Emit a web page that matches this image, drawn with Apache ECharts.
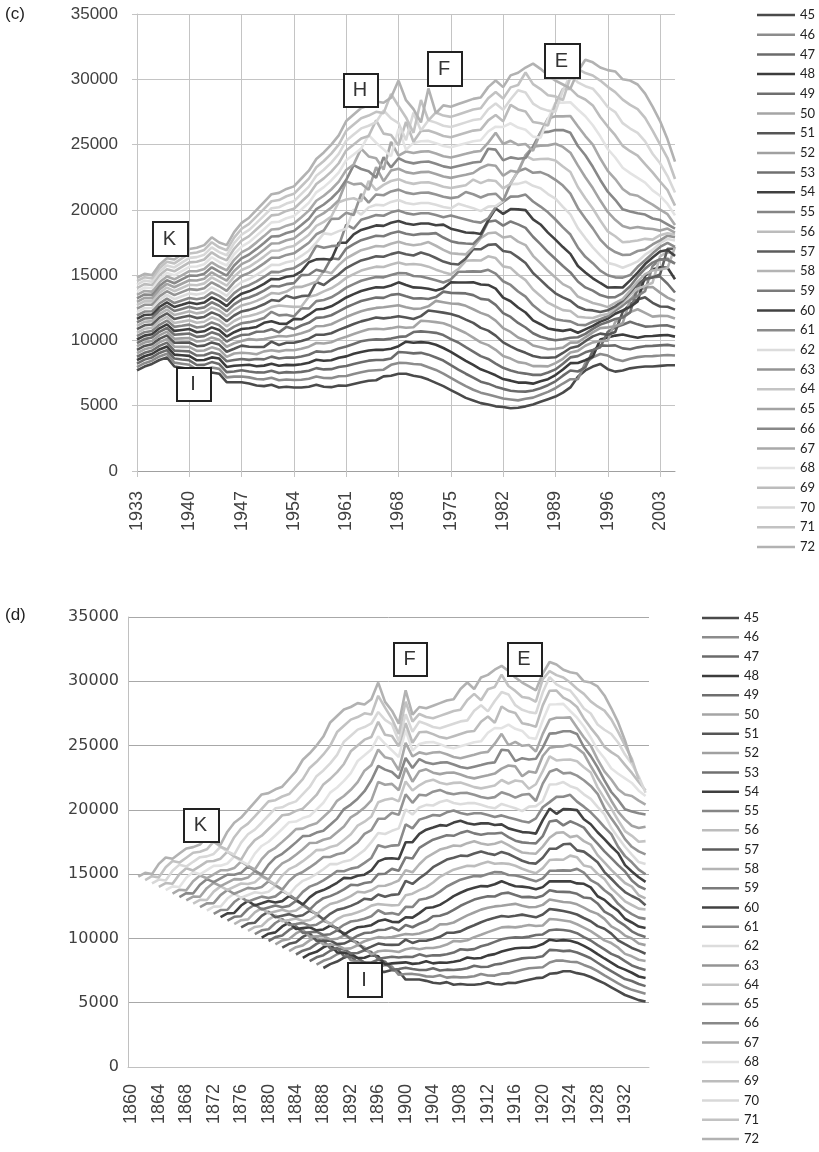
<!DOCTYPE html>
<html>
<head>
<meta charset="utf-8">
<script src="https://cdn.jsdelivr.net/npm/echarts@6/dist/echarts.min.js"></script>
<style>
html, body { margin: 0; padding: 0; background: #fff; }
#chart { width: 819px; height: 1152px; }
</style>
</head>
<body>
<div id="chart"></div>
<script>
// series = age, legend order
var ages = [45, 46, 47, 48, 49, 50, 51, 52, 53, 54, 55, 56, 57, 58, 59, 60, 61, 62, 63, 64, 65, 66, 67, 68, 69, 70, 71, 72];
var lineColors = ['#4a4a4a', '#8c8c8c', '#6b6b6b', '#3c3c3c', '#6e6e6e', '#a5a5a5', '#555555', '#a0a0a0', '#707070', '#3f3f3f',
    '#858585', '#bcbcbc', '#5c5c5c', '#b4b4b4', '#7b7b7b', '#424242', '#8a8a8a', '#dcdcdc', '#949494', '#c4c4c4',
    '#a3a3a3', '#888888', '#a9a9a9', '#e3e3e3', '#bcbcbc', '#d8d8d8', '#c2c2c2', '#b2b2b2'];

// panel (c): one array per calendar year, values for ages 45..72
var firstYear = 1933, lastYear = 2005;
var v1933 = [7700, 7960, 8230, 8490, 8750, 9020, 9280, 9540, 9800, 10070, 10330, 10590, 10860, 11120, 11380, 11650, 11910, 12170, 12430, 12700, 12960, 13220, 13490, 13750, 14010, 14280, 14540, 14800];
var v1934 = [8000, 8260, 8530, 8790, 9050, 9320, 9580, 9840, 10100, 10370, 10630, 10890, 11160, 11420, 11680, 11950, 12210, 12470, 12730, 13000, 13260, 13520, 13790, 14050, 14310, 14580, 14840, 15100];
var v1935 = [8200, 8450, 8700, 8960, 9210, 9460, 9710, 9960, 10220, 10470, 10720, 10970, 11220, 11480, 11730, 11980, 12230, 12480, 12740, 12990, 13240, 13490, 13740, 14000, 14250, 14500, 14750, 15000];
var v1936 = [8500, 8770, 9040, 9310, 9580, 9850, 10120, 10390, 10660, 10930, 11200, 11470, 11750, 12020, 12290, 12560, 12830, 13100, 13370, 13640, 13910, 14180, 14450, 14720, 14990, 15260, 15530, 15800];
var v1937 = [8700, 8980, 9260, 9540, 9830, 10110, 10390, 10670, 10950, 11230, 11520, 11800, 12080, 12360, 12640, 12920, 13200, 13490, 13770, 14050, 14330, 14610, 14890, 15170, 15460, 15740, 16020, 16300];
var v1938 = [8000, 8300, 8610, 8910, 9220, 9520, 9820, 10130, 10430, 10730, 11040, 11340, 11640, 11950, 12250, 12560, 12860, 13160, 13470, 13770, 14070, 14380, 14680, 14990, 15290, 15590, 15900, 16200];
var v1939 = [7900, 8220, 8540, 8870, 9190, 9510, 9830, 10160, 10480, 10800, 11120, 11440, 11770, 12090, 12410, 12730, 13060, 13380, 13700, 14020, 14340, 14670, 14990, 15310, 15630, 15960, 16280, 16600];
var v1940 = [7800, 8140, 8480, 8820, 9160, 9500, 9840, 10190, 10530, 10870, 11210, 11550, 11890, 12230, 12570, 12910, 13250, 13590, 13930, 14270, 14610, 14960, 15300, 15640, 15980, 16320, 16660, 17000];
var v1941 = [7400, 7760, 8120, 8480, 8840, 9200, 9560, 9920, 10270, 10630, 10990, 11350, 11710, 12070, 12430, 12790, 13150, 13510, 13870, 14230, 14590, 14950, 15300, 15660, 16020, 16380, 16740, 17100];
var v1942 = [7400, 7780, 8130, 8500, 8870, 9230, 9600, 9970, 10330, 10700, 11070, 11430, 11800, 12170, 12530, 12900, 13270, 13630, 14000, 14370, 14730, 15100, 15470, 15830, 16200, 16570, 16930, 17300];
var v1943 = [7550, 7930, 8340, 8700, 9080, 9470, 9850, 10230, 10620, 11000, 11380, 11770, 12150, 12530, 12920, 13300, 13680, 14070, 14450, 14830, 15220, 15600, 15980, 16370, 16750, 17130, 17520, 17900];
var v1944 = [7450, 7820, 8190, 8610, 8940, 9310, 9680, 10060, 10430, 10800, 11170, 11540, 11920, 12290, 12660, 13030, 13410, 13780, 14150, 14520, 14890, 15270, 15640, 16010, 16380, 16760, 17130, 17500];
var v1945 = [6800, 7170, 7570, 7970, 8410, 8740, 9130, 9520, 9910, 10300, 10690, 11080, 11470, 11860, 12240, 12630, 13020, 13410, 13800, 14190, 14580, 14970, 15360, 15740, 16130, 16520, 16910, 17300];
var v1946 = [6800, 7230, 7620, 8060, 8500, 9000, 9360, 9780, 10210, 10630, 11060, 11490, 11910, 12340, 12760, 13190, 13620, 14040, 14470, 14890, 15320, 15740, 16170, 16600, 17020, 17450, 17870, 18300];
var v1947 = [6800, 7240, 7720, 8100, 8580, 9060, 9600, 9960, 10420, 10870, 11320, 11770, 12220, 12680, 13130, 13580, 14030, 14480, 14930, 15390, 15840, 16290, 16740, 17190, 17650, 18100, 18550, 19000];
var v1948 = [6700, 7170, 7620, 8140, 8510, 9020, 9520, 10100, 10460, 10930, 11400, 11870, 12340, 12820, 13290, 13760, 14230, 14700, 15170, 15640, 16110, 16580, 17050, 17520, 17990, 18460, 18930, 19400];
var v1949 = [6550, 7050, 7550, 8020, 8580, 8940, 9500, 10040, 10660, 11030, 11530, 12030, 12530, 13030, 13520, 14020, 14520, 15020, 15520, 16010, 16510, 17010, 17510, 18010, 18510, 19000, 19500, 20000];
var v1950 = [6500, 7020, 7540, 8070, 8550, 9160, 9510, 10100, 10680, 11350, 11720, 12240, 12770, 13290, 13810, 14330, 14860, 15380, 15900, 16420, 16940, 17470, 17990, 18510, 19030, 19560, 20080, 20600];
var v1951 = [6600, 7140, 7680, 8220, 8760, 9250, 9910, 10220, 10860, 11470, 12190, 12550, 13090, 13630, 14170, 14710, 15250, 15790, 16330, 16870, 17420, 17960, 18500, 19040, 19580, 20120, 20660, 21200];
var v1952 = [6400, 6950, 7500, 8060, 8610, 9160, 9650, 10340, 10620, 11290, 11920, 12670, 13020, 13570, 14130, 14680, 15230, 15780, 16330, 16890, 17440, 17990, 18540, 19090, 19650, 20200, 20750, 21300];
var v1953 = [6450, 7010, 7570, 8130, 8690, 9260, 9820, 10300, 11040, 11270, 11970, 12620, 13420, 13740, 14310, 14870, 15430, 15990, 16550, 17110, 17670, 18230, 18790, 19360, 19920, 20480, 21040, 21600];
var v1954 = [6400, 6970, 7540, 8110, 8680, 9250, 9820, 10390, 10870, 11650, 11840, 12570, 13240, 14080, 14390, 14960, 15530, 16100, 16670, 17240, 17810, 18380, 18950, 19520, 20090, 20660, 21230, 21800];
var v1955 = [6400, 6990, 7590, 8180, 8770, 9360, 9960, 10550, 11140, 11620, 12460, 12600, 13390, 14100, 15000, 15290, 15880, 16470, 17070, 17660, 18250, 18840, 19440, 20030, 20620, 21220, 21810, 22400];
var v1956 = [6450, 7060, 7680, 8290, 8900, 9520, 10130, 10740, 11350, 11970, 12440, 13350, 13440, 14280, 15030, 15990, 16260, 16870, 17480, 18100, 18710, 19320, 19940, 20550, 21160, 21780, 22390, 23000];
var v1957 = [6600, 7240, 7880, 8520, 9160, 9800, 10440, 11090, 11730, 12370, 13010, 13480, 14480, 14500, 15410, 16210, 17250, 17490, 18130, 18770, 19420, 20060, 20700, 21340, 21980, 22620, 23260, 23900];
var v1958 = [6450, 7120, 7780, 8440, 9110, 9770, 10440, 11100, 11770, 12430, 13100, 13760, 14240, 15310, 15270, 16240, 17090, 18200, 18420, 19080, 19750, 20410, 21080, 21740, 22410, 23070, 23740, 24400];
var v1959 = [6420, 7110, 7800, 8480, 9170, 9860, 10550, 11240, 11930, 12610, 13300, 13990, 14680, 15140, 16300, 16180, 17220, 18120, 19310, 19490, 20180, 20870, 21560, 22250, 22930, 23620, 24310, 25000];
var v1960 = [6550, 7260, 7970, 8680, 9390, 10100, 10810, 11520, 12220, 12930, 13640, 14350, 15060, 15770, 16220, 17480, 17260, 18370, 19320, 20590, 20740, 21450, 22160, 22860, 23570, 24280, 24990, 25700];
var v1961 = [6530, 7280, 8040, 8780, 9530, 10280, 11030, 11790, 12540, 13290, 14040, 14790, 15540, 16290, 17040, 17490, 18870, 18560, 19780, 20790, 22180, 22300, 23050, 23800, 24550, 25300, 26050, 26800];
var v1962 = [6670, 7430, 8200, 8980, 9730, 10490, 11260, 12020, 12780, 13550, 14310, 15080, 15840, 16600, 17370, 18130, 18560, 20030, 19610, 20890, 21950, 23420, 23480, 24240, 25010, 25770, 26540, 27300];
var v1963 = [6790, 7560, 8330, 9120, 9930, 10680, 11460, 12240, 13020, 13790, 14570, 15350, 16130, 16910, 17680, 18460, 19240, 19640, 21210, 20660, 22020, 23130, 24690, 24690, 25460, 26240, 27020, 27800];
var v1964 = [6910, 7680, 8450, 9230, 10030, 10860, 11600, 12380, 13160, 13940, 14720, 15500, 16280, 17060, 17850, 18630, 19410, 20190, 20550, 22210, 21530, 22950, 24090, 25720, 25660, 26440, 27220, 28000];
var v1965 = [6950, 7720, 8500, 9280, 10080, 10900, 11750, 12490, 13280, 14070, 14860, 15650, 16440, 17230, 18020, 18810, 19600, 20390, 21180, 21510, 23270, 22460, 23950, 25140, 26850, 26720, 27510, 28300];
var v1966 = [7250, 7760, 8510, 9280, 10060, 10860, 11690, 12540, 13260, 14050, 14830, 15620, 16410, 17190, 17980, 18770, 19550, 20340, 21120, 21910, 22190, 24030, 23080, 24630, 25840, 27610, 27410, 28200];
var v1967 = [7300, 8130, 8620, 9360, 10140, 10940, 11760, 12620, 13490, 14210, 15010, 15810, 16610, 17410, 18210, 19010, 19810, 20610, 21410, 22210, 23010, 23250, 25210, 24110, 25740, 27000, 28870, 28600];
var v1968 = [7450, 8280, 9110, 9560, 10270, 11050, 11850, 12690, 13560, 14450, 15160, 15960, 16760, 17560, 18350, 19150, 19950, 20750, 21550, 22350, 23150, 23950, 24150, 26210, 24950, 26650, 27950, 29900];
var v1969 = [7450, 8270, 9080, 9900, 10310, 10970, 11750, 12540, 13380, 14240, 15140, 15810, 16600, 17390, 18170, 18960, 19750, 20530, 21320, 22110, 22890, 23680, 24470, 24610, 26740, 25340, 27080, 28400];
var v1970 = [7300, 8190, 9010, 9820, 10640, 11010, 11640, 12420, 13210, 14060, 14930, 15850, 16500, 17290, 18070, 18860, 19640, 20430, 21210, 21990, 22780, 23560, 24350, 25130, 25220, 27440, 25900, 27710];
var v1971 = [7200, 8160, 9050, 9870, 10690, 11510, 11860, 12450, 13230, 14030, 14900, 15800, 16730, 17370, 18160, 18950, 19740, 20520, 21310, 22100, 22890, 23670, 24460, 25250, 26040, 26080, 28410, 26700];
var v1972 = [7000, 7940, 8910, 9820, 10650, 11470, 12290, 12610, 13170, 13960, 14770, 15650, 16570, 17530, 18160, 18950, 19740, 20530, 21320, 22120, 22910, 23700, 24490, 25280, 26080, 26870, 26860, 29300];
var v1973 = [6750, 7740, 8690, 9670, 10580, 11400, 12220, 13030, 13320, 13820, 14610, 15420, 16310, 17250, 18220, 18820, 19600, 20390, 21180, 21960, 22750, 23530, 24320, 25110, 25890, 26680, 27460, 27400];
var v1974 = [6500, 7460, 8460, 9420, 10410, 11320, 12130, 12930, 13740, 13990, 14440, 15230, 16040, 16940, 17880, 18870, 19440, 20220, 21000, 21770, 22550, 23330, 24110, 24890, 25660, 26440, 27220, 28000];
var v1975 = [6200, 7130, 8110, 9130, 10100, 11100, 12020, 12830, 13640, 14450, 14670, 15070, 15870, 16680, 17600, 18560, 19570, 20120, 20900, 21670, 22450, 23230, 24010, 24790, 25560, 26340, 27120, 27900];
var v1976 = [5900, 6810, 7770, 8780, 9840, 10840, 11860, 12800, 13620, 14440, 15260, 15470, 15820, 16630, 17470, 18420, 19410, 20460, 20990, 21780, 22570, 23360, 24150, 24940, 25730, 26520, 27310, 28100];
var v1977 = [5600, 6500, 7450, 8440, 9480, 10570, 11590, 12650, 13600, 14440, 15270, 16100, 16280, 16590, 17420, 18270, 19260, 20290, 21370, 21890, 22690, 23490, 24290, 25100, 25900, 26700, 27500, 28300];
var v1978 = [5400, 6220, 7150, 8120, 9150, 10220, 11340, 12390, 13470, 14450, 15290, 16140, 16980, 17140, 17390, 18240, 19110, 20130, 21200, 22320, 22820, 23630, 24440, 25260, 26070, 26880, 27690, 28500];
var v1979 = [5200, 6000, 6840, 7790, 8800, 9850, 10960, 12110, 13180, 14280, 15270, 16120, 16980, 17830, 17960, 18150, 19020, 19900, 20950, 22050, 23210, 23690, 24510, 25330, 26140, 26960, 27780, 28600];
var v1980 = [5100, 5850, 6690, 7570, 8580, 9640, 10750, 11910, 13120, 14250, 15410, 16440, 17320, 18210, 19090, 19200, 19340, 20250, 21170, 22280, 23450, 24680, 25150, 26000, 26850, 27700, 28550, 29400];
var v1981 = [4950, 5700, 6460, 7330, 8230, 9280, 10370, 11520, 12720, 13970, 15120, 16310, 17370, 18260, 19180, 20100, 20200, 20290, 21240, 22210, 23380, 24610, 25910, 26370, 27260, 28140, 29020, 29900];
var v1982 = [4900, 5550, 6290, 7040, 7900, 8800, 9850, 10940, 12090, 13280, 14530, 15670, 16850, 17880, 18790, 19690, 20600, 20680, 20690, 21640, 22610, 23790, 25040, 26350, 26780, 27660, 28530, 29400];
var v1983 = [4800, 5480, 6150, 6920, 7700, 8610, 9550, 10650, 11800, 13000, 14250, 15560, 16750, 17980, 19110, 20060, 21010, 21970, 22040, 21990, 22990, 24020, 25290, 26630, 28040, 28470, 29380, 30300];
var v1984 = [4850, 5410, 6090, 6770, 7540, 8340, 9260, 10220, 11340, 12520, 13750, 15030, 16360, 17570, 18890, 20040, 21020, 21990, 22960, 23010, 22890, 23920, 24980, 26300, 27690, 29160, 29560, 30500];
var v1985 = [4950, 5540, 6080, 6770, 7460, 8250, 9050, 10000, 10990, 12140, 13350, 14620, 15930, 17300, 18620, 19980, 21170, 22160, 23160, 24160, 24190, 23970, 25040, 26140, 27530, 28980, 30520, 30900];
var v1986 = [5100, 5620, 6170, 6690, 7360, 8030, 8810, 9610, 10550, 11530, 12690, 13900, 15160, 16480, 17940, 19270, 20640, 21840, 22840, 23840, 24830, 24840, 24530, 25610, 26730, 28140, 29630, 31200];
var v1987 = [5300, 5840, 6340, 6870, 7360, 8030, 8690, 9480, 10280, 11240, 12230, 13410, 14640, 15920, 17370, 18880, 20250, 21660, 22890, 23900, 24920, 25930, 25910, 25520, 26630, 27780, 29250, 30800];
var v1988 = [5500, 6060, 6570, 7030, 7540, 8010, 8670, 9330, 10120, 10920, 11890, 12890, 14090, 15330, 16770, 18260, 19810, 21210, 22660, 23910, 24940, 25970, 27000, 26950, 26460, 27600, 28780, 30300];
var v1989 = [5700, 6340, 6870, 7350, 7780, 8260, 8710, 9360, 10020, 10810, 11620, 12600, 13610, 14820, 16240, 17720, 19260, 20860, 22300, 23780, 25060, 26110, 27160, 28200, 28130, 27510, 28690, 29900];
var v1990 = [6000, 6700, 7300, 7780, 8210, 8590, 9040, 9450, 10090, 10730, 11520, 12320, 13300, 14310, 15700, 17150, 18660, 20230, 21860, 23320, 24820, 26110, 27160, 28210, 29260, 29140, 28410, 29600];
var v1991 = [6400, 7030, 7700, 8260, 8700, 9080, 9420, 9830, 10210, 10840, 11460, 12250, 13040, 14030, 15210, 16630, 18110, 19650, 21250, 22900, 24380, 25900, 27190, 28240, 29280, 30330, 30170, 29300];
var v1992 = [7210, 7040, 7620, 8270, 8800, 9200, 9550, 9850, 10240, 10590, 11200, 11810, 12580, 13360, 14510, 15700, 17120, 18600, 20150, 21750, 23410, 24890, 26410, 27690, 28730, 29760, 30790, 30600];
var v1993 = [7700, 8260, 7930, 8480, 9090, 9590, 9940, 10240, 10500, 10850, 11170, 11760, 12350, 13110, 14060, 15210, 16400, 17840, 19340, 20890, 22500, 24180, 25650, 27170, 28450, 29470, 30480, 31500];
var v1994 = [8000, 8710, 9220, 8750, 9260, 9850, 10310, 10620, 10890, 11110, 11430, 11720, 12300, 12870, 13810, 14760, 15920, 17130, 18580, 20100, 21670, 23300, 24990, 26480, 28000, 29280, 30290, 31300];
var v1995 = [8200, 8960, 9620, 10070, 9480, 9960, 10520, 10940, 11210, 11440, 11620, 11910, 12170, 12730, 13470, 14400, 15350, 16520, 17720, 19190, 20710, 22290, 23930, 25630, 27110, 28630, 29900, 30900];
var v1996 = [7800, 8840, 9590, 10230, 10660, 9980, 10440, 11000, 11410, 11660, 11860, 12030, 12310, 12550, 13300, 14050, 14990, 15940, 17130, 18350, 19840, 21390, 22990, 24660, 26380, 27880, 29420, 30700];
var v1997 = [7610, 8560, 9620, 10370, 11000, 11410, 10640, 11090, 11640, 12040, 12270, 12460, 12610, 12880, 13310, 14070, 14830, 15790, 16770, 17980, 19240, 20770, 22360, 24010, 25720, 27490, 29020, 30600];
var v1998 = [7700, 8420, 9390, 10460, 11200, 11820, 12190, 11320, 11750, 12290, 12670, 12880, 13050, 13170, 13630, 14050, 14810, 15570, 16540, 17520, 18760, 20040, 21600, 23220, 24900, 26640, 28440, 30000];
var v1999 = [7860, 8600, 9330, 10320, 11430, 12170, 12790, 13130, 12150, 12570, 13110, 13490, 13680, 13820, 14150, 14600, 15010, 15790, 16570, 17570, 18590, 19870, 21190, 22810, 24490, 26230, 28040, 29900];
var v2000 = [7950, 8720, 9470, 10210, 11230, 12390, 13140, 13750, 14080, 12990, 13410, 13960, 14330, 14500, 14880, 15190, 15640, 16050, 16850, 17650, 18690, 19740, 21080, 22450, 24150, 25900, 27720, 29600];
var v2001 = [8000, 8790, 9560, 10320, 11060, 12110, 13300, 14050, 14650, 14960, 13770, 14180, 14720, 15080, 15500, 15850, 16140, 16570, 16970, 17780, 18580, 19640, 20720, 22090, 23500, 25240, 27040, 28900];
var v2002 = [8000, 8800, 9580, 10340, 11090, 11820, 12880, 14090, 14830, 15430, 15700, 14420, 14820, 15350, 15960, 16350, 16670, 16930, 17350, 17720, 18530, 19340, 20400, 21490, 22870, 24300, 26070, 27900];
var v2003 = [8050, 8840, 9620, 10390, 11140, 11880, 12600, 13660, 14890, 15610, 16190, 16430, 15050, 15430, 16220, 16810, 17160, 17450, 17670, 18060, 18410, 19220, 20020, 21080, 22170, 23570, 25010, 26800];
var v2004 = [8100, 8890, 9660, 10410, 11150, 11870, 12580, 13280, 14340, 15560, 16260, 16800, 17010, 15540, 16160, 16920, 17470, 17770, 18020, 18210, 18570, 18890, 19670, 20450, 21510, 22590, 23970, 25400];
var v2005 = [8100, 8840, 9570, 10290, 10990, 11680, 12360, 13020, 13670, 14690, 15870, 16530, 17020, 17170, 15900, 16460, 17170, 17660, 17910, 18110, 18250, 18560, 18840, 19580, 20320, 21330, 22360, 23700];

var yearColumns = [v1933, v1934, v1935, v1936, v1937, v1938, v1939, v1940, v1941, v1942, v1943, v1944, v1945, v1946, v1947,
    v1948, v1949, v1950, v1951, v1952, v1953, v1954, v1955, v1956, v1957, v1958, v1959, v1960, v1961, v1962, v1963, v1964,
    v1965, v1966, v1967, v1968, v1969, v1970, v1971, v1972, v1973, v1974, v1975, v1976, v1977, v1978, v1979, v1980, v1981,
    v1982, v1983, v1984, v1985, v1986, v1987, v1988, v1989, v1990, v1991, v1992, v1993, v1994, v1995, v1996, v1997, v1998,
    v1999, v2000, v2001, v2002, v2003, v2004, v2005];

// panel (d): same values re-indexed by year of birth (year - age)
var firstCohort = 1860, lastCohort = 1935;

var years = [];
for (var y = firstYear; y <= lastYear; y++) years.push(String(y));
var cohorts = [];
for (var c = firstCohort; c <= lastCohort; c++) cohorts.push(String(c));

var names = ages.map(function (a) { return String(a); });
var series = [];
ages.forEach(function (age, k) {
    var col = lineColors[k];
    series.push({
        name: names[k], type: 'line', xAxisIndex: 0, yAxisIndex: 0,
        data: yearColumns.map(function (v) { return v[k]; }),
        symbol: 'none', silent: true,
        lineStyle: { width: 2.6, color: col }, itemStyle: { color: col }
    });
});
ages.forEach(function (age, k) {
    var col = lineColors[k];
    series.push({
        name: names[k], type: 'line', xAxisIndex: 1, yAxisIndex: 1,
        data: cohorts.map(function (cs) {
            var t = +cs + age;
            return (t >= firstYear && t <= lastYear) ? yearColumns[t - firstYear][k] : null;
        }),
        symbol: 'none', silent: true,
        lineStyle: { width: 2.6, color: col }, itemStyle: { color: col }
    });
});

var txt = '#404040';
var gridCol = '#c4c4c4';
var plain = function (v) { return String(v); };

function box(x, y, w, h, label) {
    return [
        { type: 'rect', left: x, top: y, z: 100, shape: { width: w, height: h },
          style: { fill: '#fff', stroke: '#222', lineWidth: 2 } },
        { type: 'text', x: x + w / 2, y: y + h / 2 + 1, z: 101,
          style: { text: label, fill: '#333', font: '20px "Liberation Sans", Arial, sans-serif',
                   align: 'center', verticalAlign: 'middle', textAlign: 'center', textVerticalAlign: 'middle' } }
    ];
}

var graphics = [].concat(
    [{ type: 'text', left: 5, top: 6, style: { text: '(c)', fill: '#222', font: '17px "Liberation Sans", Arial' } },
     { type: 'text', left: 5, top: 607, style: { text: '(d)', fill: '#222', font: '17px "Liberation Sans", Arial' } }],
    box(152, 221, 35, 34, 'K'), box(176, 367, 34, 33, 'I'), box(343, 73, 34, 33, 'H'),
    box(427, 51, 34, 34, 'F'), box(544, 43, 35, 34, 'E'),
    box(183, 808, 35, 33, 'K'), box(347, 962, 34, 34, 'I'), box(393, 642, 33, 33, 'F'), box(507, 642, 34, 33, 'E')
);

var legendText = { fontFamily: 'Lato', fontSize: 13, color: '#222', lineHeight: 14 };

var chart = echarts.init(document.getElementById('chart'), null, { renderer: 'canvas' });
chart.setOption({
    animation: false,
    backgroundColor: '#fff',
    grid: [
        { left: 137, right: 144, top: 14, bottom: 681 },
        { left: 128, right: 170, top: 617, bottom: 85 }
    ],
    legend: [
        { data: names, orient: 'vertical', left: 757, top: 8, padding: 0, icon: 'rect',
          itemWidth: 38, itemHeight: 2.5, itemGap: 5.7, selectedMode: false, textStyle: legendText },
        { data: names, orient: 'vertical', left: 702, top: 611, padding: 0, icon: 'rect',
          itemWidth: 37, itemHeight: 2.5, itemGap: 5.3, selectedMode: false, textStyle: legendText }
    ],
    xAxis: [
        { type: 'category', gridIndex: 0, data: years, boundaryGap: false,
          axisLine: { lineStyle: { color: '#a0a0a0' } },
          axisTick: { interval: 6, length: 6, lineStyle: { color: gridCol } },
          axisLabel: { interval: 6, rotate: 90, margin: 20, color: txt, fontSize: 18, fontFamily: 'Liberation Sans' },
          splitLine: { show: true, interval: 6, lineStyle: { color: gridCol } } },
        { type: 'category', gridIndex: 1, data: cohorts, boundaryGap: true,
          axisLine: { lineStyle: { color: '#c0c0c0' } },
          axisTick: { interval: 0, length: 4, lineStyle: { color: '#b0b0b0' } },
          axisLabel: { interval: 3, rotate: 90, margin: 17, color: txt, fontSize: 18, fontFamily: 'Liberation Sans' },
          splitLine: { show: false } }
    ],
    yAxis: [
        { type: 'value', gridIndex: 0, min: 0, max: 35000, interval: 5000,
          axisLine: { show: true, lineStyle: { color: gridCol } },
          axisTick: { show: true, length: 5, lineStyle: { color: gridCol } },
          axisLabel: { margin: 19, color: txt, fontSize: 17, fontFamily: 'Liberation Sans', formatter: plain },
          splitLine: { lineStyle: { color: gridCol } } },
        { type: 'value', gridIndex: 1, min: 0, max: 35000, interval: 5000,
          axisLine: { show: true, lineStyle: { color: '#c0c0c0' } },
          axisTick: { show: false },
          axisLabel: { margin: 9, color: txt, fontSize: 16, fontFamily: 'DejaVu Sans', formatter: plain },
          splitLine: { lineStyle: { color: '#a8a8a8' } } }
    ],
    graphic: graphics,
    series: series
});
</script>
</body>
</html>
